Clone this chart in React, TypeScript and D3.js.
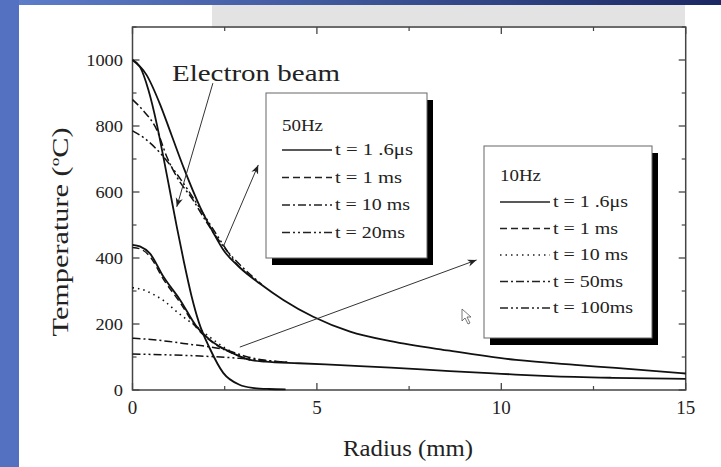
import React from "react";
import * as d3 from "d3";

// ---- data (radius in mm, temperature in °C) ----
const xTicksMajor = [0, 5, 10, 15];
const xTicksMinor = [2.5, 7.5, 12.5];
const yTicksMajor = [0, 200, 400, 600, 800, 1000];
const yTicksMinor = [100, 300, 500, 700, 900, 1100];

// 50 Hz family
const hz50_t16us_r = [0, 0.2, 0.43, 0.66, 0.83, 1.02, 1.2, 1.4, 1.6, 1.8, 2.1, 2.46, 2.9, 3.3, 3.7, 4.15];
const hz50_t16us_T = [1000, 980, 910, 805, 710, 600, 495, 385, 285, 205, 125, 52, 16, 6, 3, 2];
const hz50_t1ms_r = [0, 0.38, 0.75, 1.05, 1.4, 1.83, 2.2, 2.46, 2.9, 3.46, 4.09, 4.9, 5.9, 7, 8.6, 10.4, 12, 13.1, 15];
const hz50_t1ms_T = [1000, 955, 865, 775, 670, 555, 475, 425, 372, 322, 273, 222, 177, 148, 119, 91, 76, 67, 50];
const hz50_t10ms_r = [0, 0.28, 0.66, 0.93, 1.2, 1.64, 2.0, 2.5, 3.0, 3.5];
const hz50_t10ms_T = [880, 848, 788, 707, 646, 576, 510, 430, 370, 320];
const hz50_t20ms_r = [0, 0.38, 0.75, 1.2, 1.6, 2.0, 2.4, 2.8, 3.2];
const hz50_t20ms_T = [785, 758, 718, 655, 590, 520, 450, 385, 345];

// 10 Hz family
const hz10_t16us_r = [0, 0.2, 0.47, 0.84, 1.29, 1.74, 2.1, 2.73, 3.19, 3.6, 4.5, 5.9, 7, 8.6, 10, 11.3, 13, 15];
const hz10_t16us_T = [440, 435, 414, 343, 273, 192, 152, 111, 91, 86, 81, 74, 68, 57, 49, 42, 37, 34];
const hz10_t1ms_r = [0, 0.2, 0.47, 0.84, 1.29, 1.74, 2.1, 2.73, 3.19];
const hz10_t1ms_T = [432, 428, 405, 335, 265, 188, 150, 110, 91];
const hz10_t10ms_r = [0, 0.25, 0.56, 0.88, 1.15, 1.42, 1.74, 2.1, 2.5, 3.0, 3.5];
const hz10_t10ms_T = [310, 305, 290, 268, 242, 218, 192, 160, 128, 100, 88];
const hz10_t50ms_r = [0, 0.5, 1.0, 1.38, 2.0, 2.55, 3.1, 3.6, 4.2];
const hz10_t50ms_T = [157, 153, 147, 141, 132, 121, 101, 90, 84];
const hz10_t100ms_r = [0, 0.8, 1.83, 2.9, 3.5, 4.2];
const hz10_t100ms_T = [109, 107, 103, 96, 90, 84];

const legend50Labels = ["t = 1 .6\u03bcs", "t = 1 ms", "t = 10 ms", "t = 20ms"];
const legend50Widths = [78, 67, 75, 70];
const legend10Labels = ["t = 1 .6\u03bcs", "t = 1 ms", "t = 10 ms", "t = 50ms", "t = 100ms"];
const legend10Widths = [75, 65, 75, 70, 80];

// annotation arrows in data space [r0, T0, r1, T1] (arrowhead at r1,T1)
const arrowBeam = [2.18, 930, 1.2, 555];
const arrow50 = [2.46, 434, 3.41, 682];
const arrow10 = [2.91, 130, 9.33, 394];

const DASH = {
  solid: "none",
  dashed: "7,4",
  dotted: "1.5,4",
  dashdot: "8,3,2,3",
  dashdotdot: "8,3,2,3,2,3",
};

const W = 721;
const H = 467;
const FONT = "Liberation Serif, Times New Roman, Times, serif";
const INK = "#222";

function T({ x, y, size, anchor = "start", len, children }: any) {
  return (
    <text
      x={x}
      y={y}
      fontFamily={FONT}
      fontSize={size}
      textAnchor={anchor}
      fill={INK}
      textLength={len}
      lengthAdjust="spacingAndGlyphs"
    >
      {children}
    </text>
  );
}

export default function App() {
  const x = d3.scaleLinear().domain([0, 15]).range([132.5, 685.7]);
  const y = d3.scaleLinear().domain([0, 1100]).range([390, 27]);
  const line = d3
    .line<[number, number]>()
    .x((d) => x(d[0]))
    .y((d) => y(d[1]))
    .curve(d3.curveMonotoneX);
  const zip = (r: number[], t: number[]) => r.map((v, i) => [v, t[i]] as [number, number]);

  const series = [
    { r: hz10_t100ms_r, t: hz10_t100ms_T, dash: DASH.dashdotdot, w: 1.5 },
    { r: hz10_t50ms_r, t: hz10_t50ms_T, dash: DASH.dashdot, w: 1.5 },
    { r: hz10_t10ms_r, t: hz10_t10ms_T, dash: DASH.dotted, w: 1.6 },
    { r: hz10_t1ms_r, t: hz10_t1ms_T, dash: DASH.dashed, w: 1.4 },
    { r: hz10_t16us_r, t: hz10_t16us_T, dash: DASH.solid, w: 1.8 },
    { r: hz50_t20ms_r, t: hz50_t20ms_T, dash: DASH.dashdotdot, w: 1.5 },
    { r: hz50_t10ms_r, t: hz50_t10ms_T, dash: DASH.dashdot, w: 1.5 },
    { r: hz50_t1ms_r, t: hz50_t1ms_T, dash: DASH.solid, w: 1.8 },
    { r: hz50_t16us_r, t: hz50_t16us_T, dash: DASH.solid, w: 1.8 },
  ];

  const x0 = x(0), x1 = x(15), y0 = y(0), y1 = y(1100);
  const axisColor = "#444";

  const arrow = (a: number[], key: string) => (
    <line
      key={key}
      x1={x(a[0])}
      y1={y(a[1])}
      x2={x(a[2])}
      y2={y(a[3])}
      stroke="#333"
      strokeWidth={1}
      markerEnd="url(#ah)"
    />
  );

  const legend = (
    bx: number, by: number, bw: number, bh: number,
    title: string, labels: string[], widths: number[], dashes: string[],
    titleY: number, rowY0: number, rowDy: number, key: string
  ) => (
    <g key={key}>
      <rect x={bx + 6} y={by + 7} width={bw} height={bh} fill="#000" />
      <rect x={bx} y={by} width={bw} height={bh} fill="#fff" stroke="#666" strokeWidth={1} />
      <T x={bx + 16} y={titleY} size={16} len={41}>{title}</T>
      {labels.map((lab, i) => {
        const ly = rowY0 + i * rowDy;
        return (
          <g key={lab + i}>
            <line x1={bx + 16} x2={bx + 66} y1={ly} y2={ly} stroke={INK} strokeWidth={1.6}
              strokeDasharray={dashes[i]} />
            <T x={bx + 69} y={ly + 5} size={16} len={widths[i]}>{lab}</T>
          </g>
        );
      })}
    </g>
  );

  return (
    <svg width={W} height={H} style={{ position: "absolute", left: 0, top: 0, background: "#fff" }}>
      <defs>
        <linearGradient id="topband" x1="0" x2="1" y1="0" y2="0">
          <stop offset="0" stopColor="#5f7fcc" />
          <stop offset="1" stopColor="#1b2862" />
        </linearGradient>
        <marker id="ah" viewBox="0 0 10 10" refX="10" refY="5" markerWidth="9" markerHeight="9"
          orient="auto" markerUnits="userSpaceOnUse">
          <path d="M0,1 L10,5 L0,9 L3,5 Z" fill="#222" />
        </marker>
      </defs>
      <rect x={0} y={0} width={W} height={H} fill="#fff" />
      <rect x={0} y={0} width={W} height={5} fill="url(#topband)" />
      <rect x={0} y={0} width={19} height={H} fill="#5470c0" />
      <rect x={212} y={5} width={473} height={23} fill="#e3e3e3" />

      {/* frame */}
      <rect x={x0} y={y1} width={x1 - x0} height={y0 - y1} fill="none" stroke={axisColor} strokeWidth={1.5} />
      {xTicksMajor.map((v) => (
        <g key={"xm" + v}>
          <line x1={x(v)} x2={x(v)} y1={y0} y2={y0 - 7} stroke={axisColor} strokeWidth={1.3} />
          <line x1={x(v)} x2={x(v)} y1={y1} y2={y1 + 7} stroke={axisColor} strokeWidth={1.3} />
          <T x={x(v)} y={414} size={18} anchor="middle" len={String(v).length * 9.5}>{String(v)}</T>
        </g>
      ))}
      {xTicksMinor.map((v) => (
        <g key={"xn" + v}>
          <line x1={x(v)} x2={x(v)} y1={y0} y2={y0 - 4} stroke={axisColor} strokeWidth={1.2} />
          <line x1={x(v)} x2={x(v)} y1={y1} y2={y1 + 4} stroke={axisColor} strokeWidth={1.2} />
        </g>
      ))}
      {yTicksMajor.map((v) => (
        <g key={"ym" + v}>
          <line x1={x0} x2={x0 + 7} y1={y(v)} y2={y(v)} stroke={axisColor} strokeWidth={1.3} />
          <line x1={x1} x2={x1 - 7} y1={y(v)} y2={y(v)} stroke={axisColor} strokeWidth={1.3} />
          <T x={123} y={y(v) + 5.5} size={17} anchor="end" len={String(v).length * 9.2}>{String(v)}</T>
        </g>
      ))}
      {yTicksMinor.map((v) => (
        <g key={"yn" + v}>
          <line x1={x0} x2={x0 + 4} y1={y(v)} y2={y(v)} stroke={axisColor} strokeWidth={1.2} />
          <line x1={x1} x2={x1 - 4} y1={y(v)} y2={y(v)} stroke={axisColor} strokeWidth={1.2} />
        </g>
      ))}

      {/* curves */}
      {series.map((s, i) => (
        <path key={"s" + i} d={line(zip(s.r, s.t)) || ""} fill="none" stroke="#111"
          strokeWidth={s.w} strokeDasharray={s.dash} />
      ))}

      {/* axis titles */}
      <T x={408} y={456} size={23} anchor="middle" len={130}>Radius (mm)</T>
      <text transform="translate(68,232) rotate(-90)" fontFamily={FONT} fontSize={23}
        textAnchor="middle" fill={INK} textLength={209} lengthAdjust="spacingAndGlyphs">
        Temperature (<tspan fontSize={13} dy={-9}>o</tspan><tspan dy={9}>C)</tspan>
      </text>

      {/* annotations */}
      <T x={172} y={81} size={24} len={168}>Electron beam</T>
      {arrow(arrowBeam, "a1")}
      {arrow(arrow50, "a2")}
      {arrow(arrow10, "a3")}

      {legend(266, 93, 161, 165, "50Hz", legend50Labels, legend50Widths,
        [DASH.solid, DASH.dashed, DASH.dashdot, DASH.dashdotdot], 131, 150, 27.5, "l50")}
      {legend(484, 146, 168, 192, "10Hz", legend10Labels, legend10Widths,
        [DASH.solid, DASH.dashed, DASH.dotted, DASH.dashdot, DASH.dashdotdot], 181, 202, 26.5, "l10")}

      {/* mouse cursor */}
      <path d="M462,309 L462,321 L465,318 L468,324 L470,323 L467,317 L471,317 Z" fill="#fff" stroke="#555" strokeWidth={0.8} />
    </svg>
  );
}
